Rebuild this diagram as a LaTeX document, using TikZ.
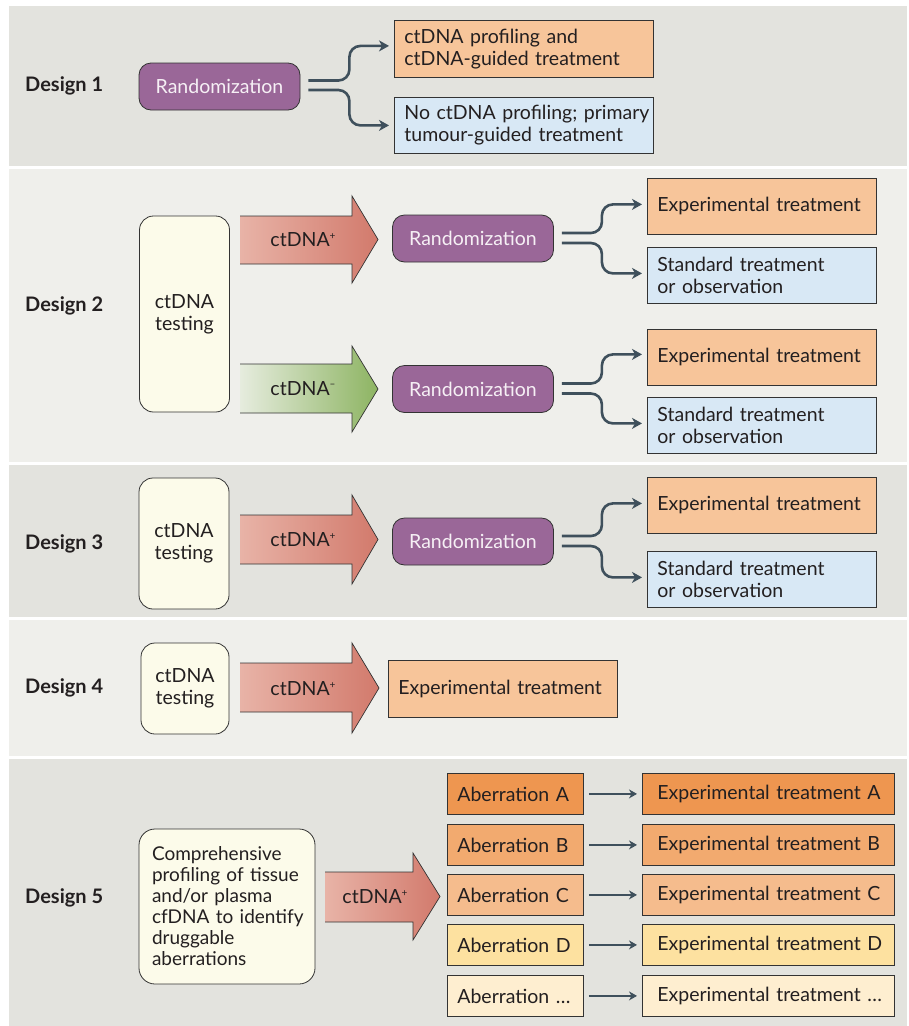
\documentclass[tikz,border=0pt]{standalone}
\usepackage{fontspec}
\setmainfont{Lato}
\usetikzlibrary{arrows.meta,calc}
\definecolor{bgdark}{HTML}{E3E3DE}
\definecolor{bglight}{HTML}{EFEFEB}
\definecolor{purp}{HTML}{9A6798}
\definecolor{cream}{HTML}{FCFBEA}
\definecolor{orng}{HTML}{F7C59A}
\definecolor{lblue}{HTML}{D8E8F5}
\definecolor{connc}{HTML}{3F505C}
\definecolor{bordc}{HTML}{333333}
\definecolor{txt}{HTML}{231F20}
\definecolor{redL}{HTML}{E8B3A7}
\definecolor{redR}{HTML}{D27A6C}
\definecolor{grnL}{HTML}{E6ECDE}
\definecolor{grnR}{HTML}{8DB462}
\definecolor{abA}{HTML}{EE9650}
\definecolor{abB}{HTML}{F2AA6F}
\definecolor{abC}{HTML}{F5BC8D}
\definecolor{abD}{HTML}{FDE1A0}
\definecolor{abE}{HTML}{FEEED0}
\definecolor{rtext}{HTML}{F6F0F5}
\newcommand{\fs}{\fontsize{19.5}{22}\selectfont}
\newcommand{\plussup}{\raisebox{0.8ex}{\fontsize{10}{10}\selectfont +}}
\newcommand{\minussup}{\raisebox{0.85ex}{\fontsize{10}{10}\selectfont –}}
\begin{document}
\begin{tikzpicture}[x=1pt,y=-1pt,
  lab/.style={font=\fontsize{20}{24}\selectfont\bfseries, text=txt, anchor=west, inner sep=0pt},
  rand/.style={draw=bordc, fill=purp, rounded corners=12pt, line width=0.8pt,
    minimum width=161pt, minimum height=47pt, text=rtext, font=\fs, inner sep=0pt},
  testbox/.style={draw=bordc, fill=cream, line width=0.8pt, align=center,
    font=\fs, text=txt, inner sep=0pt},
  rbox/.style={draw=bordc, line width=0.8pt, inner xsep=10pt, inner ysep=0pt,
    align=left, font=\fs, text=txt, anchor=north west},
  arrtxt/.style={font=\fs, text=txt, inner sep=0pt},
  conn/.style={draw=connc, line width=2.6pt, rounded corners=11pt,
    -{Stealth[length=10pt,width=11pt,inset=3pt]}},
  sconn/.style={draw=connc, line width=2.2pt,
    -{Stealth[length=8pt,width=9pt,inset=2.5pt]}},
  aout/.style={draw=bordc, line width=0.7pt, line join=miter}
]
\useasboundingbox (0,0) rectangle (909,1026);
\fill[white] (0,0) rectangle (909,1026);
% panels
\fill[bgdark]  (9,6)   rectangle (907,166);
\fill[bglight] (9,169) rectangle (907,462);
\fill[bgdark]  (9,465) rectangle (907,617);
\fill[bglight] (9,620) rectangle (907,756);
\fill[bgdark]  (9,759) rectangle (907,1026);

% ---------- Design 1 ----------
\node[lab] (l1) at (25,86) {Design 1};
\node[rand] (r1) at (219.5,86.5) {Randomization};
\node[rbox, fill=orng, text width=239pt, minimum height=57pt] (d1a) at (394,20)
  {\mbox{ctDNA profiling and}\\\mbox{ctDNA-guided treatment}};
\node[rbox, fill=lblue, text width=239pt, minimum height=56pt] (d1b) at (394,97)
  {\mbox{No ctDNA profiling; primary}\\\mbox{tumour-guided treatment}};
\draw[conn] ([xshift=8pt,yshift=6pt]r1.east) -- ++(41,0) |- ([xshift=-5pt,yshift=3pt]d1a.west);
\draw[conn] ([xshift=8pt,yshift=-3.5pt]r1.east) -- ++(41,0) |- ([xshift=-5pt]d1b.west);

% ---------- Design 2 ----------
\node[lab] (l2) at (25,306) {Design 2};
\node[testbox, rounded corners=14pt, minimum width=90pt, minimum height=196pt] (t2) at (184.5,314) {ctDNA\\testing};
\shade[left color=redL, right color=redR] (240,216) -- (352,216) -- (352,196) -- (378,239.5) -- (352,283) -- (352,264) -- (240,264) -- cycle;
\draw[aout] (240,216) -- (352,216) -- (352,196) -- (378,239.5) -- (352,283) -- (352,264) -- (240,264);
\node[arrtxt] (a2p) at (303,240) {ctDNA\plussup};
\shade[left color=grnL, right color=grnR] (240,364) -- (352,364) -- (352,346) -- (378,389) -- (352,432) -- (352,413) -- (240,413) -- cycle;
\draw[aout] (240,364) -- (352,364) -- (352,346) -- (378,389) -- (352,432) -- (352,413) -- (240,413);
\node[arrtxt] (a2m) at (303,389) {ctDNA\minussup};
\node[rand] (r2a) at (473,238.5) {Randomization};
\node[rand] (r2b) at (473,389) {Randomization};
\node[rbox, fill=orng, text width=209pt, minimum height=56pt] (e2a) at (647,178) {\mbox{Experimental treatment}};
\node[rbox, fill=lblue, text width=209pt, minimum height=56pt] (s2a) at (647,247) {Standard treatment\\or observation};
\node[rbox, fill=orng, text width=209pt, minimum height=56pt] (e2b) at (647,329) {\mbox{Experimental treatment}};
\node[rbox, fill=lblue, text width=209pt, minimum height=56pt] (s2b) at (647,397) {Standard treatment\\or observation};
\draw[conn] ([xshift=8pt,yshift=5.5pt]r2a.east) -- ++(40,0) |- ([xshift=-5pt,yshift=2pt]e2a.west);
\draw[conn] ([xshift=8pt,yshift=-4.5pt]r2a.east) -- ++(40,0) |- ([xshift=-5pt,yshift=2pt]s2a.west);
\draw[conn] ([xshift=8pt,yshift=5.5pt]r2b.east) -- ++(40,0) |- ([xshift=-5pt,yshift=3pt]e2b.west);
\draw[conn] ([xshift=8pt,yshift=-4.5pt]r2b.east) -- ++(40,0) |- ([xshift=-5pt,yshift=2pt]s2b.west);

% ---------- Design 3 ----------
\node[lab] (l3) at (25,544) {Design 3};
\node[testbox, rounded corners=14pt, minimum width=90pt, minimum height=131pt] (t3) at (184,543.5) {ctDNA\\testing};
\shade[left color=redL, right color=redR] (240,515) -- (352,515) -- (352,495) -- (378,539.5) -- (352,584) -- (352,564) -- (240,564) -- cycle;
\draw[aout] (240,515) -- (352,515) -- (352,495) -- (378,539.5) -- (352,584) -- (352,564) -- (240,564);
\node[arrtxt] (a3p) at (303,540) {ctDNA\plussup};
\node[rand] (r3) at (473,541.5) {Randomization};
\node[rbox, fill=orng, text width=209pt, minimum height=56pt] (e3) at (647,477) {\mbox{Experimental treatment}};
\node[rbox, fill=lblue, text width=209pt, minimum height=56pt] (s3) at (647,551) {Standard treatment\\or observation};
\draw[conn] ([xshift=8pt,yshift=5.5pt]r3.east) -- ++(40,0) |- ([xshift=-5pt,yshift=2pt]e3.west);
\draw[conn] ([xshift=8pt,yshift=-4.5pt]r3.east) -- ++(40,0) |- ([xshift=-5pt,yshift=2pt]s3.west);

% ---------- Design 4 ----------
\node[lab] (l4) at (25,688) {Design 4};
\node[testbox, rounded corners=14pt, minimum width=88pt, minimum height=91pt] (t4) at (185,688.5) {ctDNA\\testing};
\shade[left color=redL, right color=redR] (240,663) -- (352,663) -- (352,643) -- (379,688) -- (352,733) -- (352,712) -- (240,712) -- cycle;
\draw[aout] (240,663) -- (352,663) -- (352,643) -- (379,688) -- (352,733) -- (352,712) -- (240,712);
\node[arrtxt] (a4p) at (303,689) {ctDNA\plussup};
\node[rbox, fill=orng, text width=209pt, minimum height=57pt] (e4) at (388,660) {\mbox{Experimental treatment}};

% ---------- Design 5 ----------
\node[lab] (l5) at (25,898) {Design 5};
\node[testbox, rounded corners=16pt, minimum width=176pt, minimum height=155pt, align=left, inner xsep=13pt, text width=150pt, font=\fontsize{19}{21}\selectfont] (t5) at (227,906.5)
  {\mbox{Comprehensive}\\\mbox{profiling of tissue}\\\mbox{and/or plasma}\\\mbox{cfDNA to identify}\\\mbox{druggable}\\\mbox{aberrations}};
\shade[left color=redL, right color=redR] (325,872) -- (413,872) -- (413,853) -- (440,896.5) -- (413,940) -- (413,922) -- (325,922) -- cycle;
\draw[aout] (325,872) -- (413,872) -- (413,853) -- (440,896.5) -- (413,940) -- (413,922) -- (325,922);
\node[arrtxt] (a5p) at (375,897) {ctDNA\plussup};
\foreach \n/\c/\y/\t in {A/abA/773/A, B/abB/824/B, C/abC/874/C, D/abD/924/D, E/abE/975/\ldots}{
  \node[rbox, fill=\c, text width=116pt, minimum height=41pt] (ab\n) at (447,\y) {\mbox{Aberration \t}};
  \node[rbox, fill=\c, inner xsep=15pt, text width=222pt, minimum height=41pt] (ex\n) at (642,\y) {\mbox{Experimental treatment \t}};
  \draw[sconn] ([xshift=5pt]ab\n.east) -- ([xshift=-5pt]ex\n.west);
}
\end{tikzpicture}
\end{document}
